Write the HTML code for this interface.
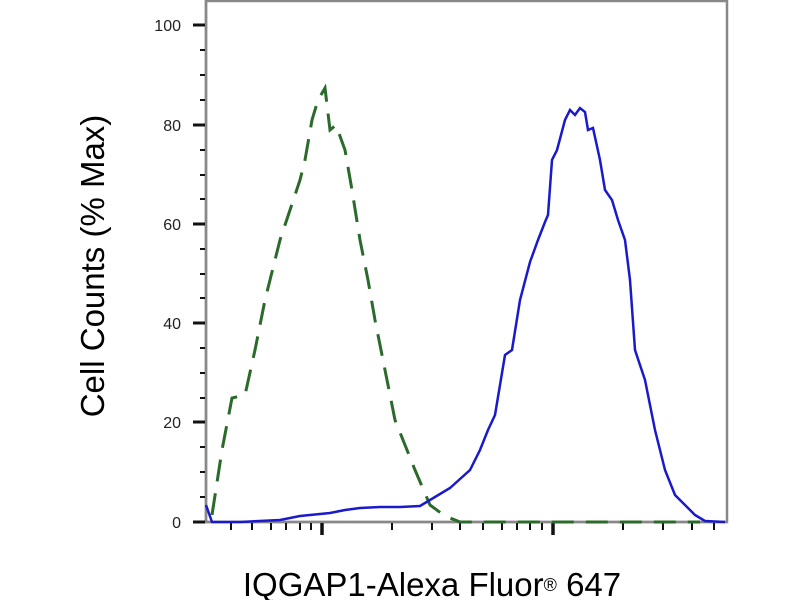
<!DOCTYPE html>
<html><head><style>body{margin:0;background:#fff}</style></head><body>
<svg width="800" height="600" xmlns="http://www.w3.org/2000/svg" font-family="Liberation Sans, sans-serif">
<rect width="800" height="600" fill="#fff"/>
<rect x="206" y="1" width="521" height="521" fill="none" stroke="#888" stroke-width="2.5"/>
<line x1="206" y1="0" x2="206" y2="523" stroke="#888" stroke-width="2.5"/>
<line x1="196" y1="522" x2="727" y2="522" stroke="#888" stroke-width="2.5"/>
<g stroke="#111" stroke-width="2">
<line x1="193" y1="25" x2="205" y2="25" stroke-width="3"/><line x1="193" y1="125" x2="205" y2="125" stroke-width="3"/><line x1="193" y1="224" x2="205" y2="224" stroke-width="3"/><line x1="193" y1="323" x2="205" y2="323" stroke-width="3"/><line x1="193" y1="422" x2="205" y2="422" stroke-width="3"/><line x1="193" y1="522" x2="205" y2="522" stroke-width="3"/>
<line x1="200" y1="50" x2="205" y2="50"/><line x1="200" y1="75" x2="205" y2="75"/><line x1="200" y1="100" x2="205" y2="100"/>
<line x1="200" y1="150" x2="205" y2="150"/><line x1="200" y1="175" x2="205" y2="175"/><line x1="200" y1="199" x2="205" y2="199"/>
<line x1="200" y1="249" x2="205" y2="249"/><line x1="200" y1="274" x2="205" y2="274"/><line x1="200" y1="298" x2="205" y2="298"/>
<line x1="200" y1="348" x2="205" y2="348"/><line x1="200" y1="373" x2="205" y2="373"/><line x1="200" y1="398" x2="205" y2="398"/>
<line x1="200" y1="447" x2="205" y2="447"/><line x1="200" y1="472" x2="205" y2="472"/><line x1="200" y1="497" x2="205" y2="497"/>
<line x1="231" y1="523" x2="231" y2="530"/><line x1="252" y1="523" x2="252" y2="530"/><line x1="271" y1="523" x2="271" y2="530"/><line x1="286" y1="523" x2="286" y2="530"/><line x1="300" y1="523" x2="300" y2="530"/><line x1="311" y1="523" x2="311" y2="530"/>
<line x1="322" y1="523" x2="322" y2="535" stroke-width="3.5"/>
<line x1="392" y1="523" x2="392" y2="530"/><line x1="432" y1="523" x2="432" y2="530"/><line x1="460" y1="523" x2="460" y2="530"/><line x1="483" y1="523" x2="483" y2="530"/><line x1="502" y1="523" x2="502" y2="530"/><line x1="517" y1="523" x2="517" y2="530"/><line x1="530" y1="523" x2="530" y2="530"/><line x1="542" y1="523" x2="542" y2="530"/>
<line x1="553" y1="523" x2="553" y2="535" stroke-width="3.5"/>
<line x1="623" y1="523" x2="623" y2="530"/><line x1="663" y1="523" x2="663" y2="530"/><line x1="692" y1="523" x2="692" y2="530"/><line x1="714" y1="523" x2="714" y2="530"/>
</g>
<g font-size="16" fill="#222" text-anchor="end">
<text x="181" y="31">100</text><text x="181" y="131">80</text><text x="181" y="230">60</text><text x="181" y="329">40</text><text x="181" y="428">20</text><text x="181" y="528">0</text>
</g>
<polyline fill="none" stroke="#2a6a2a" stroke-width="3" stroke-dasharray="22,12" points="212,515 222,450 232,398 245,395 255,350 265,300 280,240 290,210 300,180 305,160 312,120 318,100 325,88 330,130 336,125 345,150 352,190 360,240 368,280 375,320 385,370 395,420 405,445 415,470 430,505 445,516 460,522 480,522 700,522"/>
<polyline fill="none" stroke="#1a1acc" stroke-width="2.5" points="206,505 212,522 240,522 280,520 300,516 330,513 345,510 360,508 380,507 400,507 420,506 430,500 450,488 470,470 480,450 488,430 495,415 505,355 512,350 520,300 530,262 538,240 545,222 548,215 552,160 557,150 565,120 570,110 575,115 580,108 585,112 588,130 593,128 600,160 605,190 612,200 618,220 625,240 630,280 635,350 645,380 655,430 665,470 675,495 685,505 695,515 705,521 725,522"/>
<text transform="translate(104,266) rotate(-90)" font-size="33" text-anchor="middle" fill="#000">Cell Counts (% Max)</text>
<text x="432" y="596" font-size="33" text-anchor="middle" fill="#000">IQGAP1-Alexa Fluor<tspan font-size="18" dy="-5">®</tspan><tspan dy="5"> 647</tspan></text>
</svg>
</body></html>
